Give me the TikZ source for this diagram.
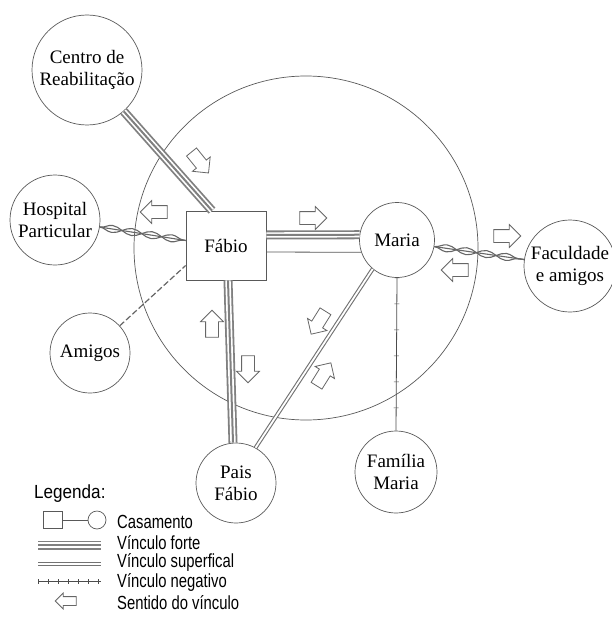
\documentclass[tikz,border=0pt]{standalone}
\usepackage{fontspec}
\setmainfont{Liberation Serif}
\newfontfamily\legfont[FakeStretch=0.78]{Liberation Sans}
\newfontfamily\legtitlefont[FakeStretch=0.9]{Liberation Sans}
\usetikzlibrary{shapes.arrows,decorations.markings,decorations.pathmorphing}

\begin{document}
\begin{tikzpicture}[
  x=1pt, y=-1pt,
  font=\fontsize{19}{22}\selectfont,
  pessoa/.style={draw=black!65, line width=0.7pt, circle, inner sep=0pt, align=center},
  caixa/.style={draw=black!65, line width=0.7pt, rectangle,
                minimum width=80pt, minimum height=69pt},
  forte/.style={draw=black!50, line width=9pt,
                postaction={draw=white, line width=5.4pt},
                postaction={draw=black!50, line width=2pt}},
  fraco/.style={draw=black!55, line width=1.1pt, double=white, double distance=1.8pt},
  casal/.style={draw=black!65, line width=0.8pt},
  negativo/.style={draw=black!70, line width=0.8pt, postaction={decorate},
                   decoration={markings, mark=between positions 0 and 1 step #1 with
                   {\draw[line width=0.6pt] (0pt,-2.5pt) -- (0pt,2.5pt);}}},
  negativo/.default=26pt,
  trama/.style={draw=black!60, line width=1.1pt,
                postaction={draw=black!60, line width=1.1pt, decorate,
                            decoration={snake, amplitude=3.5pt, segment length=40pt}},
                postaction={draw=black!60, line width=1.1pt, decorate,
                            decoration={snake, amplitude=3.5pt, segment length=40pt, mirror}}},
  tracejado/.style={draw=black!60, line width=1.2pt, dash pattern=on 6pt off 2.5pt},
  seta/.style={draw=black!60, line width=0.8pt, single arrow, minimum height=27pt,
               inner sep=6pt, single arrow head extend=5pt},
  leg/.style={anchor=west, inner sep=0pt, font=\legfont\fontsize{19}{22}\selectfont},
]
\useasboundingbox (0,0) rectangle (611,623);

% ---------------- Casal e rede ----------------
\node[pessoa, minimum size=344pt] (rede) at (306,248) {};
\node[caixa] (fabio) at (226,245.5) {Fábio};
\node[pessoa, minimum size=75pt] (maria) at (397,240) {Maria};

% ---------------- Outros sistemas ----------------
\node[pessoa, minimum size=110pt] (centro) at (87,70) {Centro de\\Reabilitação};
\node[pessoa, minimum size=90pt] (hosp) at (55,220) {Hospital\\Particular};
\node[pessoa, minimum size=80pt] (amigos) at (90,353) {Amigos};
\node[pessoa, minimum size=92pt] (fac) at (570,266) {Faculdade\\e amigos};
\node[pessoa, minimum size=80pt] (pais) at (236,483) {Pais\\Fábio};
\node[pessoa, minimum size=82pt] (fam) at (396,472) {Família\\Maria};

% ---------------- Vinculos ----------------
\draw[forte] (centro) -- ([xshift=-14pt]fabio.north);
\draw[trama] (hosp) -- ([yshift=5pt]fabio.west);
\draw[tracejado] (amigos) -- ([yshift=-20pt]fabio.west);
\draw[forte] ([yshift=10.5pt]fabio.east) -- (maria.172);
\draw[casal] ([yshift=-6.5pt]fabio.east) -- (maria.199);
\draw[forte] ([xshift=2pt]fabio.south) -- ([xshift=-3pt]pais.north);
\draw[fraco] (maria.230) -- (pais.61);
\draw[negativo] (maria.south) -- (fam.north);
\draw[trama] (maria.-10) -- (fac.172);

% ---------------- Sentido dos vinculos ----------------
\node[seta, rotate=-51] (s1) at (198,160) {};
\node[seta, rotate=180] (s2) at (157,212) {};
\node[seta] (s3) at (310,218) {};
\node[seta] (s4) at (504,236) {};
\node[seta, rotate=180] (s5) at (458,270) {};
\node[seta, rotate=90] (s6) at (212,327) {};
\node[seta, rotate=-90] (s7) at (248,366) {};
\node[seta, rotate=-122] (s8) at (320,320) {};
\node[seta, rotate=58] (s9) at (322,377) {};

% ---------------- Legenda ----------------
\node[leg, font=\legtitlefont\fontsize{19}{22}\selectfont] (legenda) at (34,494) {Legenda:};
\node[draw=black!65, line width=0.7pt, minimum width=19pt, minimum height=17pt,
      inner sep=0pt] (lsq) at (52.5,520) {};
\node[draw=black!65, line width=0.7pt, circle, minimum size=18pt, inner sep=0pt] (lci) at (97,520) {};
\draw[casal] (lsq) -- (lci);
\node[leg] (tcas) at (117,522) {Casamento};
\coordinate (lf1) at (38,545);
\coordinate (lf2) at (101,545);
\draw[forte] (lf1) -- (lf2);
\node[leg] (tfor) at (117,543) {Vínculo forte};
\coordinate (ls1) at (38,564);
\coordinate (ls2) at (101,564);
\draw[fraco] (ls1) -- (ls2);
\node[leg] (tsup) at (117,562) {Vínculo superfical};
\coordinate (ln1) at (38,581);
\coordinate (ln2) at (101,581);
\draw[negativo=10pt] (ln1) -- (ln2);
\node[leg] (tneg) at (117,582) {Vínculo negativo};
\node[seta, rotate=180, minimum height=21pt, inner sep=4pt,
      single arrow head extend=3.5pt] (lseta) at (68,601) {};
\node[leg] (tsen) at (117,603) {Sentido do vínculo};
\end{tikzpicture}
\end{document}
